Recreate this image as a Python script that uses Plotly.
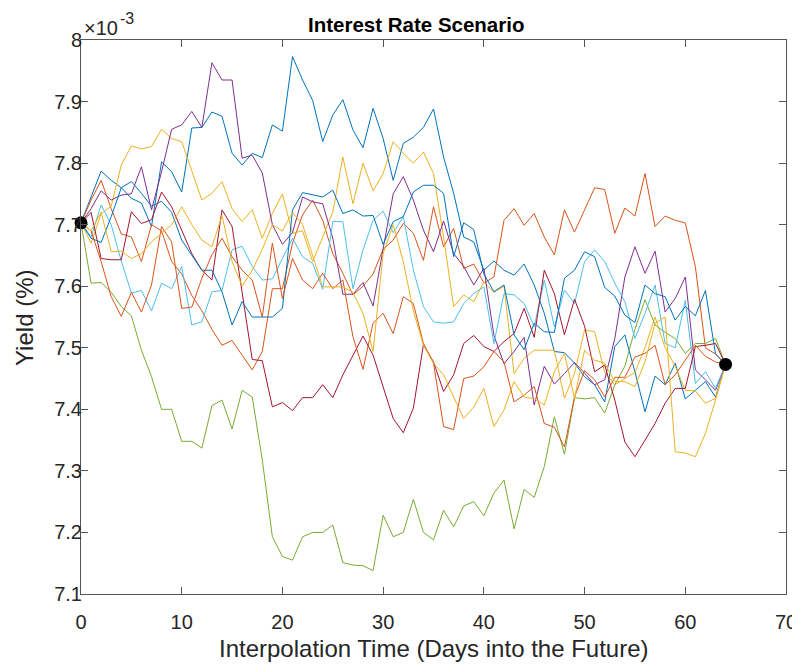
import plotly.graph_objects as go

days = list(range(65))

blue_1 = [7.703, 7.745, 7.787, 7.772, 7.760, 7.743, 7.735, 7.697, 7.802, 7.786, 7.753, 7.857, 7.858, 7.883, 7.876, 7.816, 7.797, 7.816, 7.809, 7.862, 7.852, 7.973, 7.935, 7.902, 7.835, 7.878, 7.903, 7.854, 7.825, 7.889, 7.840, 7.772, 7.832, 7.842, 7.858, 7.888, 7.810, 7.751, 7.680, 7.672, 7.626, 7.641, 7.626, 7.618, 7.636, 7.602, 7.556, 7.494, 7.492, 7.475, 7.453, 7.440, 7.412, 7.502, 7.521, 7.461, 7.396, 7.454, 7.440, 7.475, 7.417, 7.431, 7.445, 7.420, 7.473]
orange_1 = [7.703, 7.740, 7.772, 7.726, 7.685, 7.680, 7.640, 7.700, 7.690, 7.640, 7.620, 7.585, 7.560, 7.530, 7.504, 7.512, 7.488, 7.464, 7.494, 7.596, 7.596, 7.670, 7.716, 7.740, 7.707, 7.653, 7.621, 7.586, 7.600, 7.620, 7.660, 7.675, 7.702, 7.686, 7.642, 7.729, 7.664, 7.694, 7.629, 7.636, 7.605, 7.615, 7.707, 7.726, 7.699, 7.718, 7.680, 7.651, 7.724, 7.688, 7.724, 7.760, 7.757, 7.686, 7.727, 7.714, 7.783, 7.697, 7.714, 7.707, 7.703, 7.632, 7.500, 7.490, 7.473]
yellow_1 = [7.703, 7.670, 7.718, 7.730, 7.797, 7.828, 7.823, 7.827, 7.855, 7.840, 7.835, 7.786, 7.740, 7.751, 7.770, 7.726, 7.705, 7.724, 7.678, 7.718, 7.750, 7.686, 7.690, 7.640, 7.680, 7.720, 7.810, 7.734, 7.800, 7.755, 7.783, 7.835, 7.816, 7.800, 7.818, 7.783, 7.680, 7.567, 7.586, 7.575, 7.607, 7.590, 7.600, 7.458, 7.483, 7.496, 7.496, 7.496, 7.418, 7.458, 7.529, 7.526, 7.460, 7.440, 7.450, 7.460, 7.500, 7.550, 7.500, 7.470, 7.431, 7.430, 7.410, 7.418, 7.473]
purple = [7.703, 7.726, 7.755, 7.740, 7.748, 7.750, 7.794, 7.724, 7.786, 7.855, 7.862, 7.884, 7.858, 7.963, 7.935, 7.935, 7.808, 7.813, 7.784, 7.700, 7.668, 7.687, 7.745, 7.737, 7.734, 7.678, 7.587, 7.587, 7.606, 7.568, 7.661, 7.750, 7.778, 7.740, 7.691, 7.656, 7.706, 7.653, 7.632, 7.602, 7.629, 7.520, 7.474, 7.494, 7.517, 7.407, 7.470, 7.441, 7.458, 7.476, 7.459, 7.440, 7.448, 7.515, 7.615, 7.664, 7.621, 7.657, 7.558, 7.580, 7.615, 7.464, 7.448, 7.431, 7.473]
green = [7.703, 7.605, 7.606, 7.590, 7.567, 7.552, 7.496, 7.453, 7.400, 7.400, 7.348, 7.348, 7.337, 7.406, 7.415, 7.368, 7.431, 7.420, 7.318, 7.193, 7.161, 7.155, 7.193, 7.200, 7.200, 7.212, 7.151, 7.147, 7.146, 7.138, 7.228, 7.193, 7.200, 7.254, 7.200, 7.188, 7.236, 7.209, 7.243, 7.250, 7.227, 7.264, 7.285, 7.206, 7.270, 7.257, 7.307, 7.388, 7.327, 7.419, 7.417, 7.419, 7.394, 7.440, 7.470, 7.530, 7.578, 7.537, 7.525, 7.515, 7.491, 7.507, 7.507, 7.515, 7.473]
light_blue = [7.703, 7.680, 7.732, 7.700, 7.641, 7.589, 7.593, 7.560, 7.605, 7.596, 7.632, 7.537, 7.542, 7.591, 7.593, 7.659, 7.665, 7.632, 7.610, 7.612, 7.645, 7.678, 7.648, 7.637, 7.595, 7.705, 7.705, 7.596, 7.659, 7.707, 7.722, 7.687, 7.713, 7.626, 7.567, 7.542, 7.540, 7.542, 7.572, 7.588, 7.599, 7.507, 7.588, 7.586, 7.572, 7.534, 7.610, 7.534, 7.594, 7.572, 7.640, 7.659, 7.640, 7.605, 7.575, 7.515, 7.556, 7.602, 7.507, 7.500, 7.577, 7.442, 7.461, 7.434, 7.473]
dark_red = [7.703, 7.720, 7.645, 7.643, 7.643, 7.721, 7.702, 7.708, 7.753, 7.729, 7.691, 7.653, 7.626, 7.610, 7.724, 7.697, 7.590, 7.481, 7.479, 7.404, 7.411, 7.398, 7.419, 7.419, 7.440, 7.419, 7.456, 7.488, 7.519, 7.488, 7.438, 7.385, 7.362, 7.402, 7.505, 7.477, 7.429, 7.456, 7.507, 7.520, 7.502, 7.494, 7.510, 7.523, 7.564, 7.517, 7.626, 7.588, 7.521, 7.579, 7.535, 7.461, 7.472, 7.415, 7.347, 7.323, 7.350, 7.377, 7.410, 7.434, 7.434, 7.502, 7.504, 7.507, 7.473]
blue_2 = [7.703, 7.678, 7.671, 7.713, 7.760, 7.770, 7.751, 7.730, 7.738, 7.720, 7.675, 7.650, 7.626, 7.626, 7.591, 7.537, 7.575, 7.550, 7.550, 7.550, 7.564, 7.724, 7.752, 7.748, 7.745, 7.756, 7.718, 7.724, 7.714, 7.715, 7.668, 7.705, 7.713, 7.753, 7.764, 7.764, 7.751, 7.648, 7.703, 7.692, 7.620, 7.591, 7.602, 7.521, 7.497, 7.540, 7.526, 7.525, 7.613, 7.626, 7.656, 7.648, 7.598, 7.584, 7.553, 7.541, 7.602, 7.588, 7.583, 7.545, 7.567, 7.552, 7.593, 7.490, 7.473]
orange_2 = [7.703, 7.690, 7.640, 7.583, 7.551, 7.590, 7.558, 7.602, 7.697, 7.672, 7.564, 7.566, 7.613, 7.651, 7.678, 7.648, 7.626, 7.610, 7.550, 7.670, 7.580, 7.645, 7.610, 7.596, 7.621, 7.596, 7.610, 7.518, 7.465, 7.540, 7.556, 7.523, 7.583, 7.572, 7.507, 7.475, 7.372, 7.367, 7.450, 7.454, 7.469, 7.494, 7.477, 7.412, 7.423, 7.437, 7.377, 7.371, 7.339, 7.420, 7.463, 7.448, 7.420, 7.452, 7.452, 7.485, 7.491, 7.504, 7.440, 7.456, 7.480, 7.504, 7.486, 7.477, 7.473]
yellow_2 = [7.703, 7.690, 7.720, 7.656, 7.657, 7.645, 7.653, 7.672, 7.686, 7.700, 7.729, 7.700, 7.675, 7.664, 7.715, 7.640, 7.600, 7.626, 7.660, 7.700, 7.690, 7.720, 7.700, 7.650, 7.599, 7.599, 7.599, 7.590, 7.556, 7.494, 7.653, 7.700, 7.640, 7.560, 7.504, 7.475, 7.456, 7.420, 7.385, 7.404, 7.434, 7.372, 7.399, 7.445, 7.420, 7.417, 7.407, 7.461, 7.491, 7.418, 7.496, 7.480, 7.475, 7.445, 7.445, 7.437, 7.477, 7.540, 7.550, 7.331, 7.329, 7.323, 7.361, 7.415, 7.473]

series = [blue_1, orange_1, yellow_1, purple, green, light_blue, dark_red, blue_2, orange_2, yellow_2]
colors = ["#0072BD", "#D95319", "#EDB120", "#7E2F8E", "#77AC30", "#4DBEEE", "#A2142F", "#0072BD", "#D95319", "#EDB120"]

end_days = [0, 64]
end_values = [7.703, 7.473]

x_ticks = [0, 10, 20, 30, 40, 50, 60, 70]
y_ticks = [7.1, 7.2, 7.3, 7.4, 7.5, 7.6, 7.7, 7.8, 7.9, 8.0]
y_tick_labels = ["7.1", "7.2", "7.3", "7.4", "7.5", "7.6", "7.7", "7.8", "7.9", "8"]

# The page body has an 8px margin, so the figure is drawn 8px in from the
# top-left corner of the window; size and place it accordingly.
OFF = 8
W, H = 800 - OFF, 664 - OFF
L, R, T, B = 73, 14, 32, 70

fig = go.Figure()
for vals, col in zip(series, colors):
    fig.add_trace(go.Scatter(x=days, y=vals, mode="lines",
                             line=dict(color=col, width=1), hoverinfo="skip"))
fig.add_trace(go.Scatter(x=end_days, y=end_values, mode="markers",
                         marker=dict(color="black", size=13), cliponaxis=False,
                         hoverinfo="skip"))

font_family = "Liberation Sans, Arial, sans-serif"
axis_col = "#555555"
text_col = "#262626"

pw = W - L - R
ph = H - T - B

def px_x(page_x):
    return (page_x - OFF - L) / pw

def px_y(page_y):
    return (H - B - (page_y - OFF)) / ph

fig.update_layout(
    width=W, height=H,
    margin=dict(l=L, r=R, t=T, b=B, autoexpand=False),
    paper_bgcolor="white", plot_bgcolor="white",
    showlegend=False,
    font=dict(family=font_family, color=text_col, size=20),
    xaxis=dict(range=[0, 70], tickvals=x_ticks, ticks="inside", ticklen=7,
               tickcolor=axis_col, showline=True, linecolor=axis_col, linewidth=1,
               mirror="ticks", showgrid=False, zeroline=False, automargin=False,
               ticklabelstandoff=10,
               tickfont=dict(size=20, color=text_col)),
    yaxis=dict(range=[7.1, 8.0], tickvals=y_ticks, ticktext=y_tick_labels,
               ticks="inside", ticklen=7, tickcolor=axis_col, showline=True,
               linecolor=axis_col, linewidth=1, mirror="ticks", showgrid=False,
               zeroline=False, automargin=False, ticklabelstandoff=-6,
               tickfont=dict(size=20, color=text_col)),
    annotations=[
        dict(text="<b>Interest Rate Scenario</b>", xref="paper", yref="paper",
             x=px_x(415.5), y=px_y(24), xanchor="center", yanchor="middle",
             showarrow=False, font=dict(size=20.5, color="black")),
        dict(text="Interpolation Time (Days into the Future)", xref="paper", yref="paper",
             x=px_x(434), y=px_y(648), xanchor="center", yanchor="middle",
             showarrow=False, font=dict(size=24, color=text_col)),
        dict(text="Yield (%)", xref="paper", yref="paper", textangle=-90,
             x=px_x(24), y=px_y(318), xanchor="center", yanchor="middle",
             showarrow=False, font=dict(size=24, color=text_col)),
        dict(text="×10", xref="paper", yref="paper",
             x=px_x(82), y=px_y(28), xanchor="left", yanchor="middle",
             showarrow=False, font=dict(size=20, color=text_col)),
        dict(text="-3", xref="paper", yref="paper",
             x=px_x(118), y=px_y(18), xanchor="left", yanchor="middle",
             showarrow=False, font=dict(size=16, color=text_col)),
    ],
)

fig.write_html("out.html")
